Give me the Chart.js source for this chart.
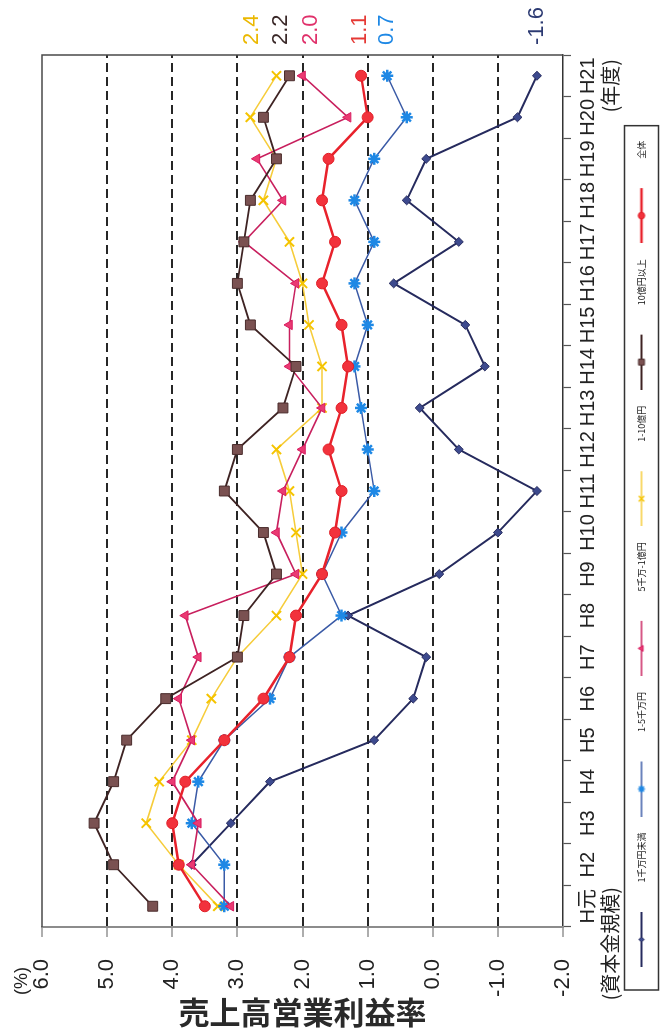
<!DOCTYPE html>
<html>
<head>
<meta charset="utf-8">
<script src="https://cdn.jsdelivr.net/npm/chart.js@4.4.1/dist/chart.umd.min.js"></script>
<style>
  html, body { margin: 0; padding: 0; background: #fff; overflow: hidden; width: 661px; height: 1035px; }
  /* the chart is laid out landscape and turned a quarter turn to stand upright */
  #wrap { position: absolute; left: 0; top: 1035px; width: 1035px; height: 661px;
          transform-origin: 0 0; transform: rotate(-90deg); }
  canvas { display: block; }
</style>
</head>
<body>
<div id="wrap"><canvas id="c" width="1035" height="661"></canvas></div>
<script>
// 年度
const years = ['H元','H2','H3','H4','H5','H6','H7','H8','H9','H10','H11',
               'H12','H13','H14','H15','H16','H17','H18','H19','H20','H21'];

// 資本金規模別 売上高営業利益率 (%)
const under10m   = [null, 3.7, 3.1, 2.5, 0.9, 0.3, 0.1, 1.3, -0.1, -1.0, -1.6, -0.4, 0.2, -0.8, -0.5, 0.6, -0.4, 0.4, 0.1, -1.3, -1.6];
const m10to50    = [3.2, 3.2, 3.7, 3.6, 3.2, 2.5, 2.2, 1.4, 1.7, 1.4, 0.9, 1.0, 1.1, 1.2, 1.0, 1.2, 0.9, 1.2, 0.9, 0.4, 0.7];
const m50to100   = [3.1, 3.7, 3.6, 4.0, 3.7, 3.9, 3.6, 3.8, 2.1, 2.4, 2.3, 2.0, 1.7, 2.2, 2.2, 2.1, 2.9, 2.3, 2.7, 1.3, 2.0];
const b1to10     = [3.3, 3.9, 4.4, 4.2, 3.7, 3.4, 3.0, 2.4, 2.0, 2.1, 2.2, 2.4, 1.7, 1.7, 1.9, 2.0, 2.2, 2.6, 2.4, 2.8, 2.4];
const over1b     = [4.3, 4.9, 5.2, 4.9, 4.7, 4.1, 3.0, 2.9, 2.4, 2.6, 3.2, 3.0, 2.3, 2.1, 2.8, 3.0, 2.9, 2.8, 2.4, 2.6, 2.2];
const allFirms   = [3.5, 3.9, 4.0, 3.8, 3.2, 2.6, 2.2, 2.1, 1.7, 1.5, 1.4, 1.6, 1.4, 1.3, 1.4, 1.7, 1.5, 1.7, 1.6, 1.0, 1.1];

// value axis ticks
const valueTicks = [6, 5, 4, 3, 2, 1, 0, -1, -2];

const seriesNames = ['1千万円未満', '1-5千万円', '5千万-1億円', '1-10億円', '10億円以上', '全体'];

const NUM_FONT = "'Liberation Sans', 'Noto Sans CJK JP', sans-serif";
const CJK_FONT = "'Noto Sans CJK JP', 'Liberation Sans', sans-serif";

const styles = [
  { line: '#262b5e', lw: 2,   style: 'rectRot',  r: 4.5, fill: '#3d4a8e', stroke: '#262b5e', bw: 1,   order: 5, label: '#2c3a72' },
  { line: '#3a5aa6', lw: 1.5, style: 'star',     r: 6,   fill: '#1e88e5', stroke: '#1e88e5', bw: 2.5, order: 3, label: '#1e88e5' },
  { line: '#c8205e', lw: 1.6, style: 'triangle', r: 5.5, fill: '#ea3a72', stroke: '#d81b60', bw: 1,   order: 2, label: '#e0306a' },
  { line: '#f6cc3a', lw: 1.5, style: 'crossRot', r: 6.5, fill: '#f5c400', stroke: '#f5c400', bw: 2,   order: 4, label: '#ebb800' },
  { line: '#3e2323', lw: 1.8, style: 'rect',     r: 7,   fill: '#7a5151', stroke: '#4a2c2c', bw: 1,   order: 1, label: '#3a2828' },
  { line: '#e8222c', lw: 2.5, style: 'circle',   r: 5.5, fill: '#f2323c', stroke: '#e01e26', bw: 1,   order: 0, label: '#e53935' }
];
const seriesData = [under10m, m10to50, m50to100, b1to10, over1b, allFirms];

// small line-with-marker samples for the legend
function makeSwatch(s) {
  const c = document.createElement('canvas');
  c.width = 80; c.height = 14;
  const g = c.getContext('2d');
  g.strokeStyle = s.line; g.lineWidth = s.lw;
  g.beginPath(); g.moveTo(0, 7); g.lineTo(55, 7); g.stroke();
  g.fillStyle = s.fill; g.strokeStyle = s.stroke; g.lineWidth = Math.min(s.bw, 1.5);
  Chart.helpers.drawPoint(g, { pointStyle: s.style, radius: s.r * 0.6, borderWidth: Math.min(s.bw, 1.5), rotation: 0 }, 27.5, 7);
  return c;
}
const swatches = styles.map(makeSwatch);

const datasets = seriesData.map((d, i) => ({
  label: seriesNames[i],
  data: d,
  borderColor: styles[i].line,
  backgroundColor: styles[i].fill,
  borderWidth: styles[i].lw,
  pointStyle: styles[i].style,
  pointRadius: styles[i].r,
  pointBackgroundColor: styles[i].fill,
  pointBorderColor: styles[i].stroke,
  pointBorderWidth: styles[i].bw,
  tension: 0,
  order: styles[i].order
}));

// where the closing value of each series is written, beyond the last year
const endLabelShift = [0, 0, 8, -25, -9, -1];
// legend row starts this far in from the canvas edge
const LEGEND_INSET = 52;

const decorations = {
  id: 'decorations',
  afterLayout(chart) {
    const lg = chart.legend;
    if (lg) { lg.left += LEGEND_INSET; lg.width -= LEGEND_INSET; }
  },
  beforeDatasetsDraw(chart) {
    const { ctx, chartArea: a } = chart;
    ctx.save();
    ctx.strokeStyle = '#4a4a4a';
    ctx.lineWidth = 1.5;
    ctx.beginPath();
    ctx.moveTo(a.left, a.top); ctx.lineTo(a.right, a.top); ctx.lineTo(a.right, a.bottom);
    ctx.stroke();
    ctx.restore();
  },
  afterDraw(chart) {
    const { ctx, chartArea: a, scales } = chart;
    ctx.save();
    // axis captions
    ctx.fillStyle = '#222';
    ctx.font = "18px " + NUM_FONT;
    ctx.textAlign = 'center'; ctx.textBaseline = 'middle';
    ctx.fillText('(%)', 54, 22);

    ctx.font = "20px " + CJK_FONT;
    ctx.textAlign = 'right';
    ctx.fillText('(資本金規模)', 148, 610);
    ctx.fillText('(年度)', 976, 610);

    // value axis title
    ctx.save();
    ctx.translate(23, (scales.y.top + scales.y.bottom) / 2);
    ctx.rotate(Math.PI / 2);
    ctx.font = "bold 31px " + CJK_FONT;
    ctx.fillStyle = '#2a2a2a';
    ctx.textAlign = 'center'; ctx.textBaseline = 'middle';
    ctx.fillText('売上高営業利益率', 0, 0);
    ctx.restore();

    // closing values
    ctx.font = "22px " + NUM_FONT;
    ctx.textAlign = 'left'; ctx.textBaseline = 'middle';
    seriesData.forEach((d, i) => {
      const v = d[d.length - 1];
      ctx.fillStyle = styles[i].label;
      ctx.fillText(v.toFixed(1), a.right + 10, scales.y.getPixelForValue(v) + endLabelShift[i]);
    });

    // legend frame
    const boxes = chart.legend.legendHitBoxes;
    if (boxes && boxes.length) {
      const first = boxes[0], last = boxes[boxes.length - 1];
      const cy = first.top + first.height / 2;
      ctx.strokeStyle = '#333';
      ctx.lineWidth = 1.5;
      ctx.strokeRect(first.left - 23, cy - 17, (last.left + last.width + 15) - (first.left - 23), 34);
    }
    ctx.restore();
  }
};

new Chart(document.getElementById('c'), {
  type: 'line',
  data: { labels: years, datasets },
  options: {
    responsive: false,
    animation: false,
    devicePixelRatio: 1,
    layout: { padding: { left: 0, right: 55, top: 42, bottom: 5 } },
    plugins: {
      tooltip: { enabled: false },
      legend: {
        position: 'bottom',
        align: 'start',
        maxHeight: 42,
        labels: {
          usePointStyle: true,
          pointStyleWidth: 80,
          padding: 16,
          color: '#222',
          font: { family: CJK_FONT, size: 9 },
          generateLabels: (chart) => chart.data.datasets.map((ds, i) => ({
            text: ds.label,
            datasetIndex: i,
            pointStyle: swatches[i],
            fillStyle: ds.backgroundColor,
            strokeStyle: ds.borderColor,
            lineWidth: 0,
            hidden: false,
            fontColor: '#222'
          }))
        }
      }
    },
    scales: {
      x: {
        offset: true,
        ticks: { font: { family: NUM_FONT, size: 20 }, color: '#222', padding: 5, autoSkip: false, maxRotation: 0 },
        grid: { offset: true, drawOnChartArea: false, tickLength: 8, tickColor: '#555', tickWidth: 1.2, color: '#555' },
        border: { color: '#333', width: 1.5 },
        afterFit: (s) => { s.height = 58; }
      },
      y: {
        min: valueTicks[valueTicks.length - 1],
        max: valueTicks[0],
        afterBuildTicks: (s) => { s.ticks = valueTicks.slice().reverse().map(v => ({ value: v })); },
        ticks: { callback: (v) => Number(v).toFixed(1), font: { family: NUM_FONT, size: 22 }, color: '#222', padding: 22 },
        grid: {
          color: (c) => (c.tick && (c.tick.value === valueTicks[0] || c.tick.value === valueTicks[valueTicks.length - 1])) ? 'rgba(0,0,0,0)' : '#262626',
          lineWidth: 2,
          tickLength: 10,
          tickColor: '#777',
          tickWidth: 1.2,
          tickBorderDash: []
        },
        border: { color: '#8c8c8c', width: 2, dash: [9, 5] },
        afterFit: (s) => { s.width = 108; }
      }
    }
  },
  plugins: [decorations]
});
</script>
</body>
</html>
